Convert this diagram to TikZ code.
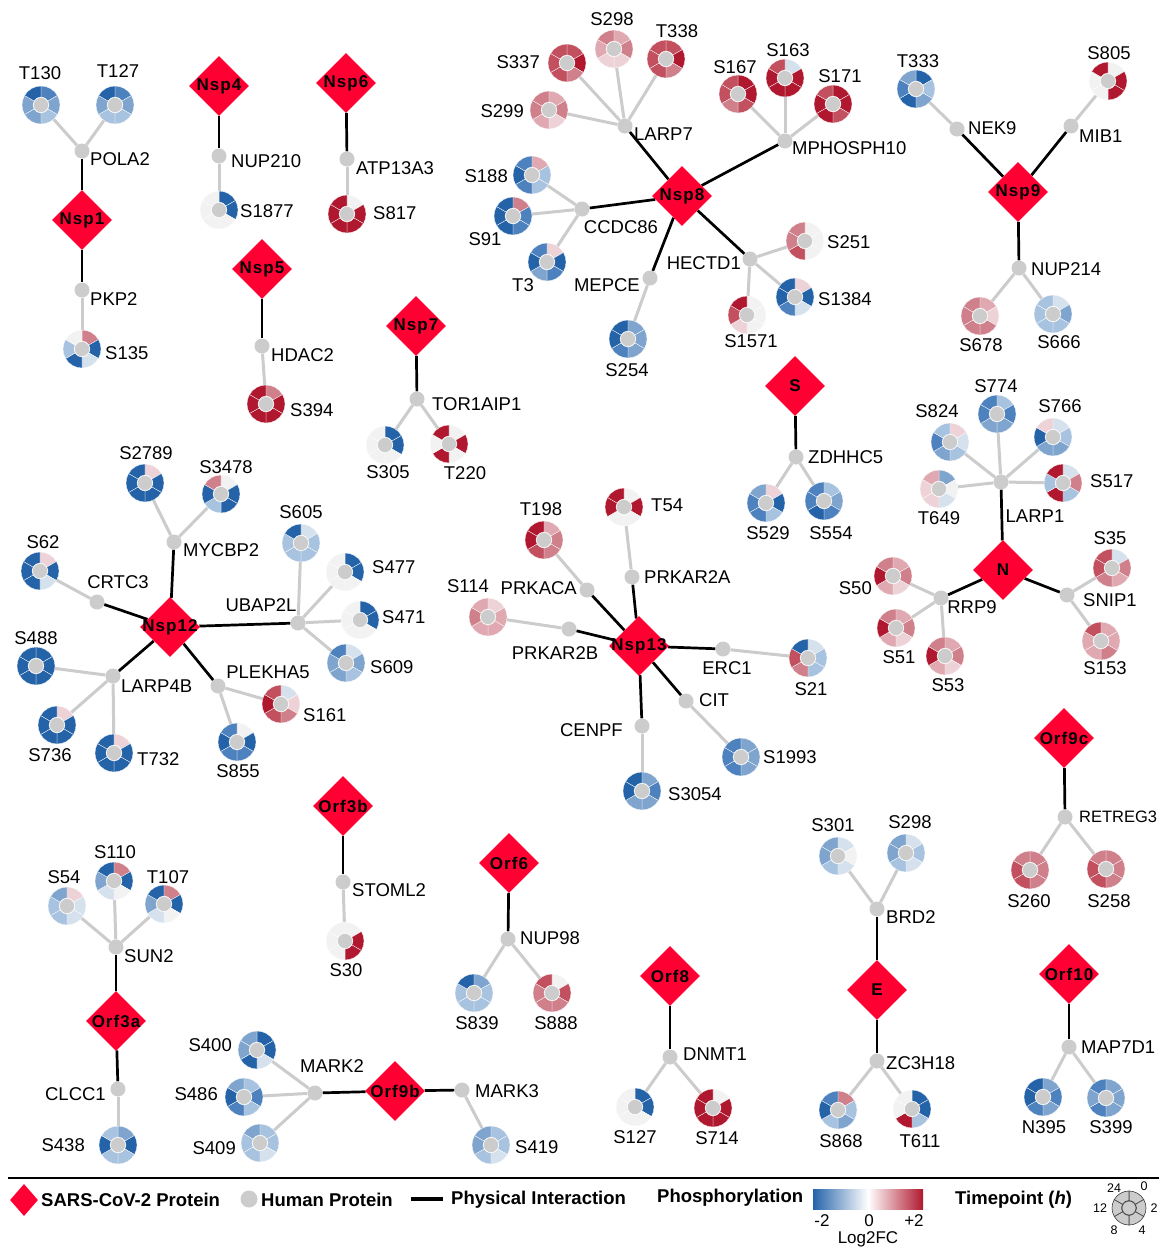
\documentclass[tikz,border=0pt]{standalone}
\usepackage{fontspec}
\setmainfont{Liberation Sans}
\usetikzlibrary{shapes.geometric}
\definecolor{dA}{HTML}{2563A9}
\definecolor{dB}{HTML}{4D82BE}
\definecolor{dC}{HTML}{7FA5CF}
\definecolor{dD}{HTML}{A8C3DF}
\definecolor{dE}{HTML}{D6E1EE}
\definecolor{dW}{HTML}{F2F2F2}
\definecolor{dF}{HTML}{EDD3D7}
\definecolor{dG}{HTML}{E0A9B1}
\definecolor{dH}{HTML}{D0808B}
\definecolor{dI}{HTML}{C2505F}
\definecolor{dJ}{HTML}{B0182F}
\definecolor{vred}{HTML}{FF0033}
\definecolor{hgrey}{HTML}{CCCCCC}
\pgfdeclarelayer{bg}
\pgfsetlayers{bg,main}
\newcommand{\dseg}[2]{\fill[d#2,draw=white,line width=0.3pt] (#1:19) arc[start angle=#1,delta angle=-60,radius=19] -- (#1-60:8) arc[start angle=#1-60,delta angle=60,radius=8] -- cycle;}
\newcommand{\donut}[8]{\begin{scope}[shift={#2}]\dseg{90}{#3}\dseg{30}{#4}\dseg{-30}{#5}\dseg{-90}{#6}\dseg{-150}{#7}\dseg{150}{#8}\node[dcen] (#1) at (0,0) {};\end{scope}}
\tikzset{
 vp/.style={diamond, fill=vred, minimum width=60pt, minimum height=60pt, inner sep=0pt, font=\fontsize{17}{17}\selectfont\bfseries\addfontfeature{LetterSpace=6}},
 hp/.style={circle, fill=hgrey, minimum size=15pt, inner sep=0pt},
 dcen/.style={circle, fill=hgrey, minimum size=15pt, inner sep=0pt, draw=white, line width=0.4pt},
 lab/.style={font=\fontsize{18.5}{18.5}\selectfont, inner sep=0pt},
 leg/.style={font=\fontsize{18.5}{18.5}\selectfont\bfseries, inner sep=0pt, anchor=west},
 tiny/.style={font=\fontsize{12.5}{12.5}\selectfont, inner sep=0pt},
 pp/.style={line width=2.7pt, black},
 ps/.style={line width=3pt, hgrey},
}
\newcommand{\vlab}[1]{\makebox[0pt]{#1}}
\begin{document}
\begin{tikzpicture}[x=1pt,y=1pt]
\useasboundingbox (0,-1248) rectangle (1159,0);
\begin{pgfonlayer}{bg}
\fill[white] (0,-1248) rectangle (1159,0);
\end{pgfonlayer}
% ---------- Nsp1
\node[vp] (vnsp1) at (82,-220) {\vlab{Nsp1}};
\node[hp] (pola2) at (82,-151) {};
\node[lab,anchor=west] (lpola2) at (90,-159) {POLA2};
\node[hp] (pkp2) at (82,-290) {};
\node[lab,anchor=west] (lpkp2) at (90,-299) {PKP2};
\donut{t130}{(41,-105)}{B}{C}{D}{C}{C}{A}
\node[lab] (lt130) at (40,-73) {T130};
\donut{t127}{(115,-105)}{B}{C}{D}{D}{C}{A}
\node[lab] (lt127) at (118,-71) {T127};
\donut{s135}{(82,-349)}{H}{A}{E}{A}{D}{W}
\node[lab,anchor=west] (ls135) at (105,-353) {S135};
% ---------- Nsp4
\node[vp] (vnsp4) at (219,-86) {\vlab{Nsp4}};
\node[hp] (nup210) at (219,-156) {};
\node[lab,anchor=west] (lnup210) at (231,-161) {NUP210};
\donut{s1877}{(219,-210)}{A}{A}{W}{W}{W}{W}
\node[lab,anchor=west] (ls1877) at (240,-211) {S1877};
% ---------- Nsp6
\node[vp] (vnsp6) at (346,-83) {\vlab{Nsp6}};
\node[hp] (atp13a3) at (347,-159) {};
\node[lab,anchor=west] (latp13a3) at (356,-168) {ATP13A3};
\donut{s817}{(347,-214)}{W}{J}{J}{J}{J}{J}
\node[lab,anchor=west] (ls817) at (373,-213) {S817};
% ---------- Nsp5
\node[vp] (vnsp5) at (262,-269) {\vlab{Nsp5}};
\node[hp] (hdac2) at (262,-346) {};
\node[lab,anchor=west] (lhdac2) at (271,-355) {HDAC2};
\donut{s394}{(266,-404)}{H}{J}{J}{J}{J}{J}
\node[lab,anchor=west] (ls394) at (290,-410) {S394};
% ---------- Nsp7
\node[vp] (vnsp7) at (416,-326) {\vlab{Nsp7}};
\node[hp] (tor1aip1) at (417,-399) {};
\node[lab,anchor=west] (ltor1aip1) at (432,-404) {TOR1AIP1};
\donut{s305}{(385,-445)}{A}{A}{W}{W}{W}{W}
\node[lab] (ls305) at (388,-472) {S305};
\donut{t220}{(449,-444)}{W}{J}{W}{J}{W}{J}
\node[lab] (lt220) at (465,-473) {T220};
% ---------- Nsp8
\node[vp] (vnsp8) at (682,-196) {\vlab{Nsp8}};
\node[hp] (larp7) at (625,-126) {};
\node[lab,anchor=west] (llarp7) at (634,-134) {LARP7};
\donut{s337}{(567,-63)}{I}{J}{H}{I}{I}{I}
\node[lab,anchor=east] (ls337) at (540,-62) {S337};
\donut{s298a}{(614,-49)}{G}{H}{F}{F}{G}{H}
\node[lab] (ls298a) at (612,-19) {S298};
\donut{t338}{(666,-59)}{I}{J}{H}{I}{I}{I}
\node[lab] (lt338) at (677,-31) {T338};
\donut{s299}{(549,-110)}{G}{H}{F}{G}{H}{H}
\node[lab,anchor=east] (ls299) at (524,-111) {S299};
\node[hp] (mphosph10) at (785,-141) {};
\node[lab,anchor=west] (lmphosph10) at (792,-148) {MPHOSPH10};
\donut{s167}{(738,-94)}{J}{J}{I}{H}{I}{I}
\node[lab] (ls167) at (735,-67) {S167};
\donut{s163}{(785,-78)}{E}{J}{J}{J}{J}{I}
\node[lab] (ls163) at (788,-50) {S163};
\donut{s171}{(833,-104)}{J}{J}{I}{J}{J}{I}
\node[lab] (ls171) at (840,-76) {S171};
\node[hp] (ccdc86) at (582,-209) {};
\node[lab] (lccdc86) at (621,-227) {CCDC86};
\donut{s188}{(532,-175)}{G}{D}{D}{B}{A}{B}
\node[lab,anchor=east] (ls188) at (508,-176) {S188};
\donut{s91}{(513,-216)}{H}{B}{B}{A}{A}{A}
\node[lab] (ls91) at (485,-239) {S91};
\donut{t3}{(547,-262)}{F}{A}{B}{C}{A}{B}
\node[lab] (lt3) at (523,-285) {T3};
\node[hp] (mepce) at (650,-278) {};
\node[lab,anchor=east] (lmepce) at (640,-285) {MEPCE};
\donut{s254}{(628,-339)}{C}{C}{C}{B}{A}{A}
\node[lab] (ls254) at (627,-370) {S254};
\node[hp] (hectd1) at (750,-259) {};
\node[lab,anchor=east] (lhectd1) at (741,-263) {HECTD1};
\donut{s251}{(805,-241)}{W}{W}{W}{I}{H}{H}
\node[lab,anchor=west] (ls251) at (827,-242) {S251};
\donut{s1384}{(795,-297)}{F}{A}{E}{B}{A}{A}
\node[lab,anchor=west] (ls1384) at (818,-299) {S1384};
\donut{s1571}{(747,-315)}{W}{W}{W}{F}{I}{J}
\node[lab] (ls1571) at (751,-341) {S1571};
% ---------- Nsp9
\node[vp] (vnsp9) at (1018,-192) {\vlab{Nsp9}};
\node[hp] (nek9) at (957,-129) {};
\node[lab,anchor=west] (lnek9) at (968,-128) {NEK9};
\donut{t333}{(916,-89)}{A}{D}{C}{A}{B}{C}
\node[lab] (lt333) at (918,-61) {T333};
\node[hp] (mib1) at (1071,-126) {};
\node[lab,anchor=west] (lmib1) at (1079,-136) {MIB1};
\donut{s805}{(1108,-81)}{W}{J}{J}{W}{W}{J}
\node[lab] (ls805) at (1109,-53) {S805};
\node[hp] (nup214) at (1019,-268) {};
\node[lab,anchor=west] (lnup214) at (1031,-269) {NUP214};
\donut{s678}{(980,-316)}{G}{F}{H}{H}{H}{H}
\node[lab] (ls678) at (981,-345) {S678};
\donut{s666}{(1053,-314)}{E}{C}{D}{D}{D}{D}
\node[lab] (ls666) at (1059,-342) {S666};
% ---------- Nsp12
\node[vp] (vnsp12) at (170,-627) {\vlab{Nsp12}};
\node[hp] (mycbp2) at (174,-542) {};
\node[lab,anchor=west] (lmycbp2) at (183,-550) {MYCBP2};
\donut{s2789}{(145,-483)}{F}{A}{A}{A}{A}{A}
\node[lab] (ls2789) at (146,-453) {S2789};
\donut{s3478}{(221,-494)}{W}{A}{A}{D}{A}{H}
\node[lab] (ls3478) at (226,-467) {S3478};
\node[hp] (crtc3) at (97,-602) {};
\node[lab] (lcrtc3) at (118,-582) {CRTC3};
\donut{s62}{(40,-571)}{F}{A}{E}{A}{A}{A}
\node[lab] (ls62) at (43,-542) {S62};
\node[hp] (ubap2l) at (298,-623) {};
\node[lab] (lubap2l) at (261,-605) {UBAP2L};
\donut{s605}{(301,-543)}{E}{D}{D}{D}{D}{A}
\node[lab] (ls605) at (301,-512) {S605};
\donut{s477}{(345,-572)}{A}{A}{W}{W}{W}{W}
\node[lab,anchor=west] (ls477) at (372,-567) {S477};
\donut{s471}{(360,-620)}{A}{A}{W}{W}{W}{W}
\node[lab,anchor=west] (ls471) at (382,-617) {S471};
\donut{s609}{(346,-663)}{E}{C}{D}{C}{C}{B}
\node[lab,anchor=west] (ls609) at (370,-667) {S609};
\node[hp] (larp4b) at (113,-676) {};
\node[lab,anchor=west] (llarp4b) at (121,-686) {LARP4B};
\donut{s488}{(36,-666)}{A}{A}{A}{A}{A}{A}
\node[lab] (ls488) at (36,-638) {S488};
\donut{s736}{(57,-725)}{F}{A}{A}{A}{A}{A}
\node[lab] (ls736) at (50,-755) {S736};
\donut{t732}{(114,-753)}{F}{A}{A}{A}{A}{A}
\node[lab,anchor=west] (lt732) at (137,-759) {T732};
\node[hp] (plekha5) at (218,-686) {};
\node[lab] (lplekha5) at (268,-672) {PLEKHA5};
\donut{s161}{(281,-704)}{E}{F}{H}{I}{J}{I}
\node[lab,anchor=west] (ls161) at (303,-715) {S161};
\donut{s855}{(237,-742)}{W}{A}{B}{B}{A}{B}
\node[lab] (ls855) at (238,-771) {S855};
% ---------- Nsp13
\node[vp] (vnsp13) at (639,-646) {\vlab{Nsp13}};
\node[hp] (prkaca) at (587,-590) {};
\node[lab,anchor=east] (lprkaca) at (577,-588) {PRKACA};
\donut{t198}{(544,-540)}{G}{H}{H}{I}{J}{J}
\node[lab] (lt198) at (541,-509) {T198};
\node[hp] (prkar2a) at (632,-577) {};
\node[lab,anchor=west] (lprkar2a) at (644,-577) {PRKAR2A};
\donut{t54}{(624,-507)}{W}{J}{W}{W}{J}{J}
\node[lab,anchor=west] (lt54) at (651,-505) {T54};
\node[hp] (prkar2b) at (569,-629) {};
\node[lab] (lprkar2b) at (555,-653) {PRKAR2B};
\donut{s114}{(488,-617)}{F}{G}{G}{G}{H}{G}
\node[lab] (ls114) at (468,-586) {S114};
\node[hp] (erc1) at (723,-649) {};
\node[lab] (lerc1) at (727,-668) {ERC1};
\donut{s21}{(808,-658)}{E}{D}{D}{H}{I}{A}
\node[lab] (ls21) at (811,-689) {S21};
\node[hp] (cit) at (686,-701) {};
\node[lab,anchor=west] (lcit) at (699,-700) {CIT};
\donut{s1993}{(741,-757)}{C}{C}{C}{B}{B}{B}
\node[lab,anchor=west] (ls1993) at (763,-757) {S1993};
\node[hp] (cenpf) at (642,-726) {};
\node[lab,anchor=east] (lcenpf) at (623,-730) {CENPF};
\donut{s3054}{(642,-791)}{C}{B}{C}{C}{A}{A}
\node[lab,anchor=west] (ls3054) at (668,-794) {S3054};
% ---------- S
\node[vp] (vS) at (795,-386) {\vlab{S}};
\node[hp] (zdhhc5) at (796,-457) {};
\node[lab,anchor=west] (lzdhhc5) at (808,-457) {ZDHHC5};
\donut{s529}{(766,-503)}{F}{A}{D}{B}{B}{C}
\node[lab] (ls529) at (768,-533) {S529};
\donut{s554}{(824,-501)}{D}{C}{B}{A}{B}{B}
\node[lab] (ls554) at (831,-533) {S554};
% ---------- N
\node[vp] (vN) at (1003,-570) {\vlab{N}};
\node[hp] (larp1) at (1001,-482) {};
\node[lab] (llarp1) at (1035,-516) {LARP1};
\donut{s824}{(950,-442)}{F}{E}{D}{C}{B}{D}
\node[lab] (ls824) at (937,-411) {S824};
\donut{s774}{(997,-414)}{D}{B}{C}{C}{B}{B}
\node[lab] (ls774) at (996,-386) {S774};
\donut{s766}{(1053,-437)}{E}{D}{C}{C}{A}{F}
\node[lab] (ls766) at (1060,-406) {S766};
\donut{t649}{(939,-489)}{C}{W}{E}{F}{F}{G}
\node[lab] (lt649) at (939,-518) {T649};
\donut{s517}{(1063,-483)}{E}{H}{D}{J}{D}{J}
\node[lab,anchor=west] (ls517) at (1090,-481) {S517};
\node[hp] (rrp9) at (941,-598) {};
\node[lab] (lrrp9) at (972,-607) {RRP9};
\donut{s50}{(893,-576)}{G}{H}{F}{G}{J}{H}
\node[lab,anchor=east] (ls50) at (872,-588) {S50};
\donut{s51}{(896,-628)}{G}{H}{F}{G}{J}{H}
\node[lab] (ls51) at (899,-657) {S51};
\donut{s53}{(945,-656)}{G}{H}{F}{G}{J}{H}
\node[lab] (ls53) at (948,-685) {S53};
\node[hp] (snip1) at (1067,-595) {};
\node[lab,anchor=west] (lsnip1) at (1083,-600) {SNIP1};
\donut{s35}{(1112,-568)}{E}{H}{G}{H}{I}{I}
\node[lab] (ls35) at (1110,-538) {S35};
\donut{s153}{(1101,-641)}{G}{G}{H}{G}{G}{I}
\node[lab] (ls153) at (1105,-668) {S153};
% ---------- Orf9c
\node[vp] (vorf9c) at (1064,-738) {\vlab{Orf9c}};
\node[hp] (retreg3) at (1065,-817) {};
\node[lab,anchor=west,font=\fontsize{16.5}{16.5}\selectfont] (lretreg3) at (1079,-817) {RETREG3};
\donut{s260}{(1030,-870)}{H}{H}{H}{I}{I}{H}
\node[lab] (ls260) at (1029,-901) {S260};
\donut{s258}{(1106,-869)}{H}{H}{H}{I}{I}{H}
\node[lab] (ls258) at (1109,-901) {S258};
% ---------- E
\node[vp] (vE) at (877,-990) {\vlab{E}};
\node[hp] (brd2) at (877,-909) {};
\node[lab,anchor=west] (lbrd2) at (886,-917) {BRD2};
\donut{s301}{(838,-856)}{E}{W}{E}{D}{C}{C}
\node[lab] (ls301) at (833,-825) {S301};
\donut{s298e}{(906,-853)}{E}{D}{E}{D}{C}{C}
\node[lab] (ls298e) at (910,-822) {S298};
\node[hp] (zc3h18) at (877,-1061) {};
\node[lab,anchor=west] (lzc3h18) at (886,-1063) {ZC3H18};
\donut{s868}{(838,-1110)}{H}{D}{C}{D}{A}{B}
\node[lab] (ls868) at (841,-1141) {S868};
\donut{t611}{(912,-1109)}{A}{A}{D}{J}{W}{W}
\node[lab] (lt611) at (920,-1141) {T611};
% ---------- Orf10
\node[vp] (vorf10) at (1069,-974) {\vlab{Orf10}};
\node[hp] (map7d1) at (1069,-1047) {};
\node[lab,anchor=west] (lmap7d1) at (1081,-1047) {MAP7D1};
\donut{n395}{(1043,-1097)}{C}{B}{C}{B}{A}{A}
\node[lab] (ln395) at (1044,-1127) {N395};
\donut{s399}{(1106,-1098)}{C}{C}{C}{B}{C}{B}
\node[lab] (ls399) at (1111,-1127) {S399};
% ---------- Orf8
\node[vp] (vorf8) at (670,-976) {\vlab{Orf8}};
\node[hp] (dnmt1) at (670,-1057) {};
\node[lab,anchor=west] (ldnmt1) at (683,-1054) {DNMT1};
\donut{s127}{(635,-1107)}{A}{A}{W}{W}{W}{W}
\node[lab] (ls127) at (635,-1137) {S127};
\donut{s714}{(713,-1108)}{W}{J}{J}{J}{J}{J}
\node[lab] (ls714) at (717,-1138) {S714};
% ---------- Orf6
\node[vp] (vorf6) at (509,-863) {\vlab{Orf6}};
\node[hp] (nup98) at (508,-939) {};
\node[lab,anchor=west] (lnup98) at (520,-938) {NUP98};
\donut{s839}{(474,-993)}{C}{D}{D}{D}{D}{A}
\node[lab] (ls839) at (477,-1023) {S839};
\donut{s888}{(552,-993)}{W}{I}{H}{H}{H}{I}
\node[lab] (ls888) at (556,-1023) {S888};
% ---------- Orf3b
\node[vp] (vorf3b) at (343,-806) {\vlab{Orf3b}};
\node[hp] (stoml2) at (343,-882) {};
\node[lab,anchor=west] (lstoml2) at (352,-890) {STOML2};
\donut{s30}{(345,-941)}{W}{J}{J}{W}{W}{W}
\node[lab] (ls30) at (346,-970) {S30};
% ---------- Orf3a
\node[vp] (vorf3a) at (116,-1021) {\vlab{Orf3a}};
\node[hp] (sun2) at (116,-947) {};
\node[lab,anchor=west] (lsun2) at (124,-956) {SUN2};
\donut{s54}{(67,-906)}{F}{E}{E}{D}{D}{C}
\node[lab] (ls54) at (64,-877) {S54};
\donut{s110}{(114,-881)}{H}{A}{W}{E}{C}{A}
\node[lab] (ls110) at (115,-852) {S110};
\donut{t107}{(164,-904)}{H}{A}{W}{E}{C}{A}
\node[lab] (lt107) at (168,-877) {T107};
\node[hp] (clcc1) at (118,-1089) {};
\node[lab,anchor=east] (lclcc1) at (106,-1094) {CLCC1};
\donut{s438}{(118,-1145)}{C}{A}{D}{D}{A}{D}
\node[lab,anchor=east] (ls438) at (85,-1145) {S438};
% ---------- Orf9b
\node[vp] (vorf9b) at (395,-1091) {\vlab{Orf9b}};
\node[hp] (mark2) at (315,-1093) {};
\node[lab] (lmark2) at (332,-1066) {MARK2};
\donut{s400}{(257,-1050)}{A}{A}{E}{A}{C}{C}
\node[lab,anchor=east] (ls400) at (232,-1045) {S400};
\donut{s486}{(244,-1097)}{D}{B}{D}{B}{A}{C}
\node[lab,anchor=east] (ls486) at (218,-1094) {S486};
\donut{s409}{(260,-1143)}{D}{D}{E}{D}{D}{C}
\node[lab,anchor=east] (ls409) at (236,-1148) {S409};
\node[hp] (mark3) at (462,-1090) {};
\node[lab,anchor=west] (lmark3) at (475,-1091) {MARK3};
\donut{s419}{(491,-1145)}{D}{D}{E}{D}{C}{C}
\node[lab,anchor=west] (ls419) at (515,-1147) {S419};
% ---------- edges
\begin{pgfonlayer}{bg}
\foreach \a/\b in {vnsp1/pola2,vnsp1/pkp2,vnsp4/nup210,vnsp6/atp13a3,vnsp5/hdac2,vnsp7/tor1aip1,vnsp8/larp7,vnsp8/mphosph10,vnsp8/ccdc86,vnsp8/mepce,vnsp8/hectd1,vnsp9/nek9,vnsp9/mib1,vnsp9/nup214,vnsp12/mycbp2,vnsp12/crtc3,vnsp12/ubap2l,vnsp12/larp4b,vnsp12/plekha5,vnsp13/prkaca,vnsp13/prkar2a,vnsp13/prkar2b,vnsp13/erc1,vnsp13/cit,vnsp13/cenpf,vS/zdhhc5,vN/larp1,vN/rrp9,vN/snip1,vorf9c/retreg3,vE/brd2,vE/zc3h18,vorf10/map7d1,vorf8/dnmt1,vorf6/nup98,vorf3b/stoml2,vorf3a/sun2,vorf3a/clcc1,vorf9b/mark2,vorf9b/mark3}
  \draw[pp] (\a) -- (\b);
\foreach \a/\b in {pola2/t130,pola2/t127,pkp2/s135,nup210/s1877,atp13a3/s817,hdac2/s394,tor1aip1/s305,tor1aip1/t220,larp7/s337,larp7/s298a,larp7/t338,larp7/s299,mphosph10/s167,mphosph10/s163,mphosph10/s171,ccdc86/s188,ccdc86/s91,ccdc86/t3,mepce/s254,hectd1/s251,hectd1/s1384,hectd1/s1571,nek9/t333,mib1/s805,nup214/s678,nup214/s666,mycbp2/s2789,mycbp2/s3478,crtc3/s62,ubap2l/s605,ubap2l/s477,ubap2l/s471,ubap2l/s609,larp4b/s488,larp4b/s736,larp4b/t732,plekha5/s161,plekha5/s855,prkaca/t198,prkar2a/t54,prkar2b/s114,erc1/s21,cit/s1993,cenpf/s3054,zdhhc5/s529,zdhhc5/s554,larp1/s824,larp1/s774,larp1/s766,larp1/t649,larp1/s517,rrp9/s50,rrp9/s51,rrp9/s53,snip1/s35,snip1/s153,retreg3/s260,retreg3/s258,brd2/s301,brd2/s298e,zc3h18/s868,zc3h18/t611,map7d1/n395,map7d1/s399,dnmt1/s127,dnmt1/s714,nup98/s839,nup98/s888,stoml2/s30,sun2/s54,sun2/s110,sun2/t107,clcc1/s438,mark2/s400,mark2/s486,mark2/s409,mark3/s419}
  \draw[ps] (\a) -- (\b);
\end{pgfonlayer}
% ---------- legend
\draw[line width=1.5pt] (8,-1178) -- (1159,-1178);
\node[diamond, fill=vred, minimum width=28pt, minimum height=32pt, inner sep=0pt] (legv) at (24,-1200) {};
\node[leg] (legvt) at (41,-1200) {SARS-CoV-2 Protein};
\node[circle, fill=hgrey, minimum size=17pt, inner sep=0pt] (legh) at (249,-1199) {};
\node[leg] (leght) at (261,-1200) {Human Protein};
\coordinate (legpa) at (411,-1199);
\coordinate (legpb) at (443,-1199);
\draw[line width=4pt] (legpa) -- (legpb);
\node[leg] (legpt) at (451,-1200) {Physical Interaction};
\node[leg] (legph) at (657,-1198) {Phosphorylation};
\shade[left color=dA, right color=dJ, middle color=white] (813,-1189) rectangle (923,-1209);
\node[lab,font=\fontsize{17}{17}\selectfont] (legm2) at (822,-1221) {-2};
\node[lab,font=\fontsize{17}{17}\selectfont] (leg0) at (869,-1221) {0};
\node[lab,font=\fontsize{17}{17}\selectfont] (legp2) at (914,-1221) {+2};
\node[lab,font=\fontsize{17}{17}\selectfont] (leglfc) at (868,-1239) {Log2FC};
\node[leg] (legtp) at (955,-1200) {Timepoint (\textit{h})};
\begin{scope}[shift={(1129,-1208)}]
\foreach \a in {90,30,-30,-90,-150,150}
  \fill[hgrey,draw=black!75,line width=0.6pt] (\a:17) arc[start angle=\a,delta angle=-60,radius=17] -- (\a-60:7.5) arc[start angle=\a-60,delta angle=60,radius=7.5] -- cycle;
\node[circle,fill=hgrey,draw=black!75,line width=0.6pt,minimum size=14pt,inner sep=0pt] (legd) at (0,0) {};
\end{scope}
\node[tiny] (lt24) at (1114,-1188) {24};
\node[tiny] (lt0) at (1144,-1186) {0};
\node[tiny] (lt12) at (1100,-1208) {12};
\node[tiny] (lt2) at (1154,-1208) {2};
\node[tiny] (lt8) at (1114,-1230) {8};
\node[tiny] (lt4) at (1142,-1230) {4};
\end{tikzpicture}
\end{document}
